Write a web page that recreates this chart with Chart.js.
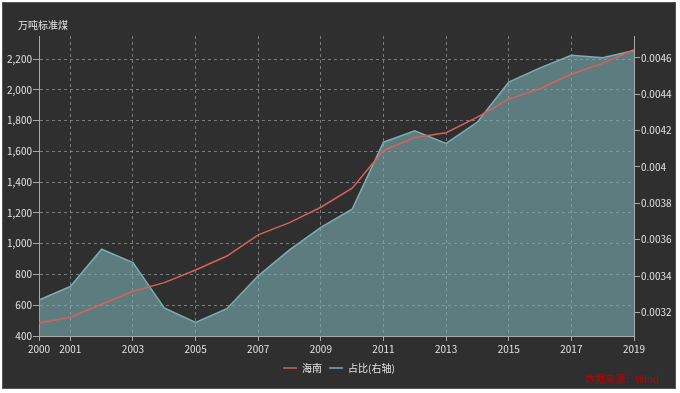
<!DOCTYPE html>
<html>
<head>
<meta charset="utf-8">
<script src="https://cdn.jsdelivr.net/npm/chart.js@4"></script>
<style>
  body { margin: 0; background: #fff; }
  #wrap { position: absolute; left: 2px; top: 2px; width: 674px; height: 387px;
          background: #2f2f2f; border: 1px solid #555; box-sizing: border-box; }
  #chart { display: block; }
</style>
</head>
<body>
<div id="wrap"><canvas id="chart" width="672" height="385"></canvas></div>
<script>
// data
const years = ['2000','2001','2002','2003','2004','2005','2006','2007','2008','2009',
               '2010','2011','2012','2013','2014','2015','2016','2017','2018','2019'];
const shownYears = ['2000','2001','2003','2005','2007','2009','2011','2013','2015','2017','2019'];
const hainan = [485, 522, 606, 691, 747, 829, 920, 1057, 1137, 1237,
                1361, 1606, 1690, 1721, 1823, 1940, 2007, 2103, 2172, 2261];
const share = [0.003268, 0.003342, 0.003547, 0.003474, 0.003224, 0.003145, 0.00322, 0.003401, 0.003544, 0.003668,
               0.003767, 0.004136, 0.004198, 0.004129, 0.004247, 0.004466, 0.004545, 0.004614, 0.0046, 0.00464];
const seriesNames = ['海南', '占比(右轴)'];
const unitLabel = '万吨标准煤';
const sourceLabel = '数据来源：Wind';

const FONT = '"Noto Sans CJK SC", "Noto Sans", sans-serif';
const gridColor = 'rgba(185,185,185,0.55)';
const axisColor = '#a8a8a8';
const textColor = '#e2e2e2';

// unit label top left, source note bottom right
const notes = {
    id: 'notes',
    afterDraw(chart) {
        const c = chart.ctx;
        c.save();
        c.textBaseline = 'middle';
        c.font = '10px ' + FONT;
        c.fillStyle = textColor;
        c.textAlign = 'left';
        c.fillText(unitLabel, 15, 22);
        c.fillStyle = '#c00000';
        c.textAlign = 'right';
        c.fillText(sourceLabel, chart.width - 16, 376);
        c.restore();
    }
};

const ctx = document.getElementById('chart').getContext('2d');
const chart = new Chart(ctx, {
    type: 'line',
    data: {
        labels: years,
        datasets: [{
            label: seriesNames[0],
            data: hainan,
            yAxisID: 'y',
            borderColor: '#d9605a',
            borderWidth: 1.5,
            pointRadius: 0,
            fill: false,
            tension: 0
        }, {
            label: seriesNames[1],
            data: share,
            yAxisID: 'y1',
            borderColor: '#7aaeb4',
            backgroundColor: 'rgba(122,172,178,0.62)',
            borderWidth: 1.5,
            pointRadius: 0,
            fill: 'start',
            tension: 0
        }]
    },
    options: {
        responsive: false,
        animation: false,
        devicePixelRatio: 1,
        layout: { padding: { left: 0, right: 0, top: 33, bottom: 5 } },
        plugins: {
            legend: {
                position: 'bottom',
                labels: {
                    usePointStyle: true,
                    pointStyle: 'line',
                    pointStyleWidth: 14,
                    boxHeight: 10,
                    padding: 7,
                    color: textColor,
                    font: { family: FONT, size: 10 }
                }
            },
            tooltip: { enabled: false }
        },
        scales: {
            x: {
                offset: false,
                afterFit: (s) => { s.height = 20; },
                grid: {
                    color: (c) => (c.tick && shownYears.includes(years[c.index])) ? gridColor : 'transparent',
                    tickColor: (c) => (c.tick && shownYears.includes(years[c.index])) ? axisColor : 'transparent',
                    tickLength: 5
                },
                border: { color: axisColor, dash: [3, 3] },
                ticks: {
                    autoSkip: false,
                    maxRotation: 0,
                    padding: 2,
                    color: textColor,
                    font: { family: FONT, size: 10 },
                    callback: (v, i) => shownYears.includes(years[i]) ? years[i] : ''
                }
            },
            y: {
                position: 'left',
                min: 400,
                max: 2350,
                afterFit: (s) => { s.width = 36; },
                grid: { color: gridColor, tickColor: axisColor, tickLength: 6 },
                border: { color: axisColor, dash: [3, 3] },
                ticks: {
                    stepSize: 200,
                    includeBounds: false,
                    padding: 1,
                    color: textColor,
                    font: { family: FONT, size: 10 },
                    callback: (v) => v.toLocaleString('en-US')
                }
            },
            y1: {
                position: 'right',
                min: 0.00307,
                max: 0.00472,
                afterFit: (s) => { s.width = 41; },
                grid: { drawOnChartArea: false, color: axisColor, tickLength: 6 },
                border: { color: axisColor },
                ticks: {
                    stepSize: 0.0002,
                    includeBounds: false,
                    padding: 1,
                    color: textColor,
                    font: { family: FONT, size: 10 },
                    callback: (v) => String(parseFloat(v.toFixed(4)))
                }
            }
        }
    },
    plugins: [notes]
});
</script>
</body>
</html>
